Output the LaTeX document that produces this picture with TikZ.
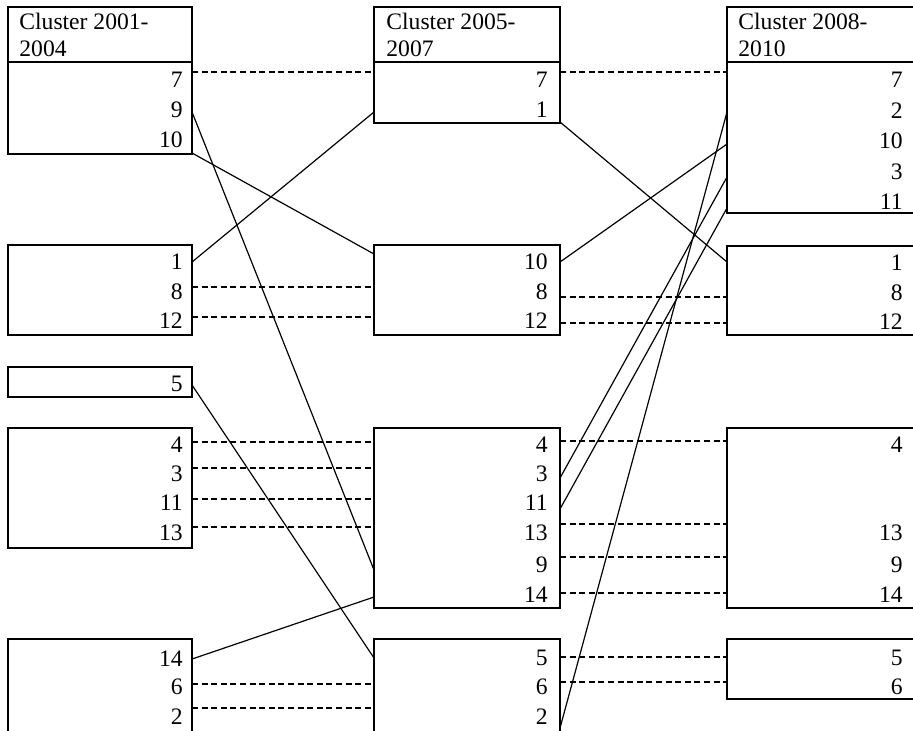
\documentclass[tikz,border=0pt]{standalone}
\usepackage{fontspec}
\setmainfont{Liberation Serif}

\tikzset{
  box/.style={line width=0.65pt},
  num/.style={anchor=east, inner sep=0pt},
  head/.style={anchor=north west, inner sep=0pt, align=left},
  same/.style={line width=0.6pt, dash pattern=on 3pt off 1.8pt},
  moved/.style={line width=0.6pt}
}

\begin{document}
\begin{tikzpicture}[x=0.5pt, y=-0.5pt, font=\fontsize{11.8}{13.6}\selectfont]

\useasboundingbox (0,0) rectangle (913,730);
\clip (0,0) rectangle (913,730);

% Cluster boxes 2001-2004
\draw[box] (8,7) rectangle (192,154);
\draw[box] (8,62) -- (192,62);
\draw[box] (8,245) rectangle (192,335);
\draw[box] (8,367) rectangle (192,397);
\draw[box] (8,428) rectangle (192,548);
\draw[box] (8,639) rectangle (192,745);

% Cluster boxes 2005-2007
\draw[box] (374,7) rectangle (560,123);
\draw[box] (374,62) -- (560,62);
\draw[box] (374,245) rectangle (560,335);
\draw[box] (374,428) rectangle (560,608);
\draw[box] (374,639) rectangle (560,745);

% Cluster boxes 2008-2010
\draw[box] (727,7) rectangle (925,213);
\draw[box] (727,62) -- (925,62);
\draw[box] (727,246) rectangle (925,335);
\draw[box] (727,428) rectangle (925,608);
\draw[box] (727,639) rectangle (925,699);

% Headers
\node[head] (h1) at (19,13) {Cluster 2001-\\2004};
\node[head] (h2) at (386,13) {Cluster 2005-\\2007};
\node[head] (h3) at (738,13) {Cluster 2008-\\2010};

% Members
\foreach \t/\y in {7/80, 9/110, 10/140, 1/262, 8/292, 12/321, 5/384, 4/445,
                   3/474, 11/503, 13/533, 14/659, 6/687, 2/717}
  \node[num] (n1-\t) at (183,\y) {\t};
\foreach \t/\y in {7/80, 1/110, 10/262, 8/292, 12/321, 4/445, 3/474, 11/503,
                   13/533, 9/565, 14/595, 5/658, 6/687, 2/717}
  \node[num] (n2-\t) at (548,\y) {\t};
\foreach \t/\y in {7/80, 2/111, 10/141, 3/172, 11/202, 1/263, 8/293, 12/322,
                   4/445, 13/533, 9/565, 14/595, 5/658, 6/687}
  \node[num] (n3-\t) at (903,\y) {\t};

% Ports
\foreach \m/\y in {7/72, 9/112, 10/153, 1/262, 8/287, 12/317, 5/385, 4/442,
                   3/468, 11/499, 13/527, 14/659, 6/684, 2/708}
  \coordinate (a\m) at (192,\y);
\foreach \m/\y in {7/72, 1/112, 10/254, 8/287, 12/317, 4/442, 3/468, 11/499,
                   13/527, 9/570, 14/597, 5/658, 6/684, 2/708}
  \coordinate (bl\m) at (374,\y);
\foreach \m/\y in {7/72, 1/122, 10/262, 8/297, 12/323, 4/441, 3/478, 11/509,
                   13/524, 9/557, 14/593, 5/657, 6/682, 2/728}
  \coordinate (br\m) at (560,\y);
\foreach \m/\y in {7/72, 2/112, 10/144, 3/177, 11/208, 1/262, 8/297, 12/323,
                   4/441, 13/524, 9/557, 14/593, 5/657, 6/682}
  \coordinate (c\m) at (727,\y);

% Links 2001-2004 to 2005-2007
\foreach \m in {7,8,12,4,3,11,13,6,2}
  \draw[same] (a\m) -- (bl\m);
\foreach \m in {9,10,1,5,14}
  \draw[moved] (a\m) -- (bl\m);

% Links 2005-2007 to 2008-2010
\foreach \m in {7,8,12,4,13,9,14,5,6}
  \draw[same] (br\m) -- (c\m);
\foreach \m in {1,10,3,11,2}
  \draw[moved] (br\m) -- (c\m);

\end{tikzpicture}
\end{document}
